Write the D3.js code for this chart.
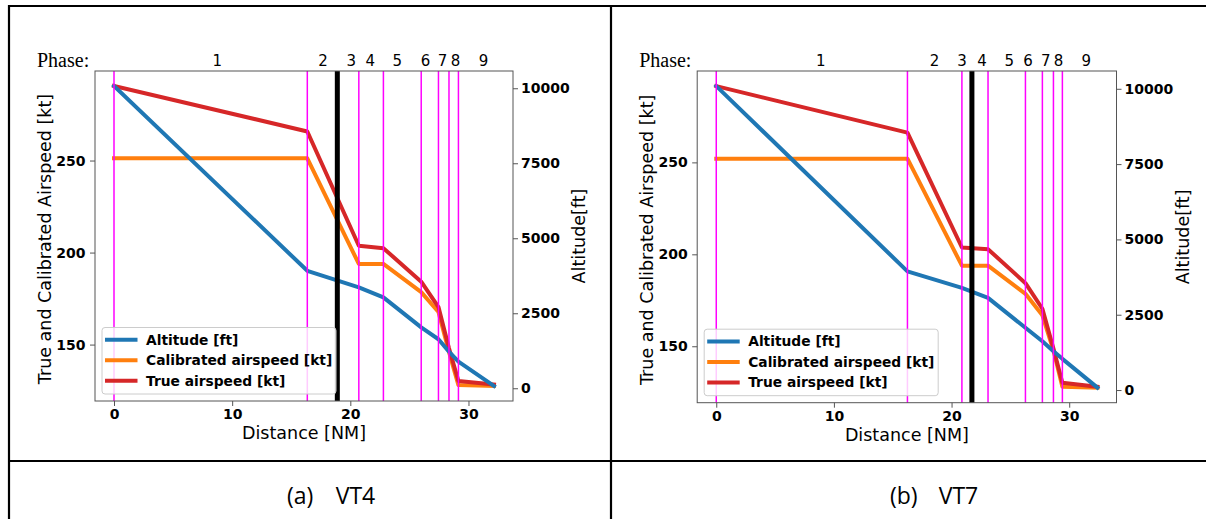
<!DOCTYPE html>
<html>
<head>
<meta charset="utf-8">
<script src="https://cdn.jsdelivr.net/npm/d3@7"></script>
<style>
  body { margin: 0; background: #fff; }
  svg text { font-family: "DejaVu Sans", sans-serif; }
</style>
</head>
<body>
<div id="chart"></div>
<script>
// ---- values ----
const phaseNames = ["1", "2", "3", "4", "5", "6", "7", "8", "9"];
const speedTicks = [150, 200, 250];
const altTicks = [0, 2500, 5000, 7500, 10000];
const distTicks = [0, 10, 20, 30];
const seriesNames = ["Altitude [ft]", "Calibrated airspeed [kt]", "True airspeed [kt]"];
const captions = ["(a)", "(b)"];
const testNames = ["VT4", "VT7"];

// VT4
const distVT4 = [0, 16.36, 20.72, 22.8, 26.0, 27.46, 28.35, 29.15, 32.16];
const altVT4 = [10075, 3915, 3360, 3030, 2030, 1633, 1220, 887, 75];
const casVT4 = [251.2, 251.2, 193.8, 193.8, 178.5, 167.7, 146, 128.0, 127.5];
const tasVT4 = [290.5, 265.8, 203.7, 202.4, 184.2, 170.4, 148, 130.2, 128.3];
const phaseBoundsVT4 = [0, 16.36, 20.72, 22.8, 26.0, 27.46, 28.35, 29.15];
const markerVT4 = 18.9;
const phaseLabelPosVT4 = [8.73, 17.7, 20.08, 21.69, 23.98, 26.36, 27.8, 28.9, 31.27];

// VT7
const distVT7 = [0, 16.25, 20.88, 23.1, 26.28, 27.72, 28.66, 29.42, 32.4];
const altVT7 = [10090, 3940, 3390, 3060, 2066, 1620, 1291, 1035, 80];
const casVT7 = [252, 252, 193.8, 193.8, 178.5, 166.8, 147.8, 128.0, 127.5];
const tasVT7 = [291.5, 266.2, 203.7, 202.8, 184.3, 170.4, 148.8, 130.2, 128.0];
const phaseBoundsVT7 = [0, 16.25, 20.88, 23.1, 26.28, 27.72, 28.66, 29.42];
const markerVT7 = 21.73;
const phaseLabelPosVT7 = [8.88, 18.55, 20.88, 22.6, 24.9, 26.5, 28.0, 29.1, 31.45];

const colors = { alt: "#1f77b4", cas: "#ff7f0e", tas: "#d62728" };
const spine = "#555";

const svg = d3.select("#chart").append("svg")
    .attr("width", 1206)
    .attr("height", 519);

// table grid around the two figures
const grid = svg.append("g").attr("stroke", "#000").attr("stroke-width", 2.2);
grid.append("line").attr("x1", 8).attr("x2", 1206).attr("y1", 6).attr("y2", 6);
grid.append("line").attr("x1", 8).attr("x2", 1206).attr("y1", 461).attr("y2", 461);
grid.append("line").attr("x1", 9).attr("x2", 9).attr("y1", 5).attr("y2", 519);
grid.append("line").attr("x1", 611).attr("x2", 611).attr("y1", 5).attr("y2", 519);

// matplotlib style 5% margins
const pad = ext => {
    const r = ext[1] - ext[0];
    return [ext[0] - 0.05 * r, ext[1] + 0.05 * r];
};

function drawPanel(p) {
    const g = svg.append("g");

    const x = d3.scaleLinear().domain(pad(d3.extent(p.dist))).range([p.left, p.right]);
    const ySpd = d3.scaleLinear().domain(pad(d3.extent(p.cas.concat(p.tas)))).range([p.bottom, p.top]);
    const yAlt = d3.scaleLinear().domain(pad(d3.extent(p.alt))).range([p.bottom, p.top]);

    // data lines
    const lineSpd = d3.line().x((d, i) => x(p.dist[i])).y(d => ySpd(d));
    const lineAlt = d3.line().x((d, i) => x(p.dist[i])).y(d => yAlt(d));

    [[p.cas, lineSpd, colors.cas], [p.tas, lineSpd, colors.tas], [p.alt, lineAlt, colors.alt]]
        .forEach(([vals, gen, c]) => {
            g.append("path")
                .attr("d", gen(vals))
                .attr("fill", "none")
                .attr("stroke", c)
                .attr("stroke-width", 4)
                .attr("stroke-linejoin", "round")
                .attr("stroke-linecap", "square");
        });

    // phase boundaries
    g.selectAll(".phase")
        .data(p.bounds)
        .enter().append("line")
        .attr("x1", d => x(d)).attr("x2", d => x(d))
        .attr("y1", p.top).attr("y2", p.bottom)
        .attr("stroke", "#ff00ff")
        .attr("stroke-width", 1.5);

    // black marker line
    g.append("line")
        .attr("x1", x(p.marker)).attr("x2", x(p.marker))
        .attr("y1", p.top).attr("y2", p.bottom)
        .attr("stroke", "#000")
        .attr("stroke-width", 5);

    // frame
    g.append("rect")
        .attr("x", p.left).attr("y", p.top)
        .attr("width", p.right - p.left).attr("height", p.bottom - p.top)
        .attr("fill", "none").attr("stroke", spine).attr("stroke-width", 1);

    // axes
    const styleAxis = sel => {
        sel.select(".domain").remove();
        sel.selectAll(".tick line").attr("stroke", spine);
        sel.selectAll(".tick text")
            .attr("fill", "#000")
            .style("font-family", "DejaVu Sans")
            .style("font-size", "14px")
            .style("font-weight", "bold");
    };

    g.append("g")
        .attr("transform", `translate(0,${p.bottom})`)
        .call(d3.axisBottom(x).tickValues(distTicks).tickSize(5).tickPadding(3).tickFormat(d3.format("d")))
        .call(styleAxis);

    g.append("g")
        .attr("transform", `translate(${p.left},0)`)
        .call(d3.axisLeft(ySpd).tickValues(speedTicks).tickSize(5).tickPadding(4.5).tickFormat(d3.format("d")))
        .call(styleAxis);

    g.append("g")
        .attr("transform", `translate(${p.right},0)`)
        .call(d3.axisRight(yAlt).tickValues(altTicks).tickSize(5).tickPadding(3).tickFormat(d3.format("d")))
        .call(styleAxis);

    // axis titles
    const midY = (p.top + p.bottom) / 2;
    g.append("text")
        .attr("x", (p.left + p.right) / 2).attr("y", p.bottom + 38)
        .attr("text-anchor", "middle")
        .style("font-size", "17.5px")
        .text("Distance [NM]");

    g.append("text")
        .attr("transform", `translate(${p.left - 44},${midY + 3}) rotate(-90)`)
        .attr("text-anchor", "middle")
        .style("font-size", "17.5px")
        .text("True and Calibrated Airspeed [kt]");

    g.append("text")
        .attr("transform", `translate(${p.right + 72},${midY}) rotate(-90)`)
        .attr("text-anchor", "middle")
        .style("font-size", "17.5px")
        .text("Altitude[ft]");

    // phase row
    g.append("text")
        .attr("x", p.left - 58).attr("y", 66.5)
        .style("font-family", "Liberation Serif")
        .style("font-size", "20px")
        .text("Phase:");

    g.selectAll(".phaseLabel")
        .data(phaseNames)
        .enter().append("text")
        .attr("x", (d, i) => x(p.labelPos[i]))
        .attr("y", 65.5)
        .attr("text-anchor", "middle")
        .style("font-size", "15px")
        .text(d => d);

    // legend, lower left
    const lw = 234, lh = 66.5;
    const legend = g.append("g")
        .attr("transform", `translate(${p.left + 7},${p.bottom - 7 - lh})`);
    legend.append("rect")
        .attr("width", lw).attr("height", lh).attr("rx", 3)
        .attr("fill", "#fff").attr("fill-opacity", 0.8)
        .attr("stroke", "#ccc").attr("stroke-width", 1);

    [colors.alt, colors.cas, colors.tas].forEach((c, i) => {
        const yy = 12.3 + i * 20.5;
        legend.append("line")
            .attr("x1", 5).attr("x2", 33.5)
            .attr("y1", yy).attr("y2", yy)
            .attr("stroke", c).attr("stroke-width", 4)
            .attr("stroke-linecap", "square");
        legend.append("text")
            .attr("x", 44).attr("y", yy + 5)
            .style("font-size", "13.8px")
            .style("font-weight", "bold")
            .text(seriesNames[i]);
    });

    // caption in the table row below
    svg.append("text")
        .attr("x", p.capX).attr("y", 503.5)
        .style("font-family", "Open Sans")
        .style("font-size", "23px")
        .text(p.caption);
    svg.append("text")
        .attr("x", p.capX + 48.7).attr("y", 503.5)
        .style("font-family", "Open Sans")
        .style("font-size", "23px")
        .text(p.name);
}

drawPanel({
    left: 95, right: 513, top: 71, bottom: 401,
    dist: distVT4, alt: altVT4, cas: casVT4, tas: tasVT4,
    bounds: phaseBoundsVT4, marker: markerVT4, labelPos: phaseLabelPosVT4,
    caption: captions[0], name: testNames[0], capX: 287
});

drawPanel({
    left: 697.2, right: 1116.5, top: 71, bottom: 402.7,
    dist: distVT7, alt: altVT7, cas: casVT7, tas: tasVT7,
    bounds: phaseBoundsVT7, marker: markerVT7, labelPos: phaseLabelPosVT7,
    caption: captions[1], name: testNames[1], capX: 890
});
</script>
</body>
</html>
